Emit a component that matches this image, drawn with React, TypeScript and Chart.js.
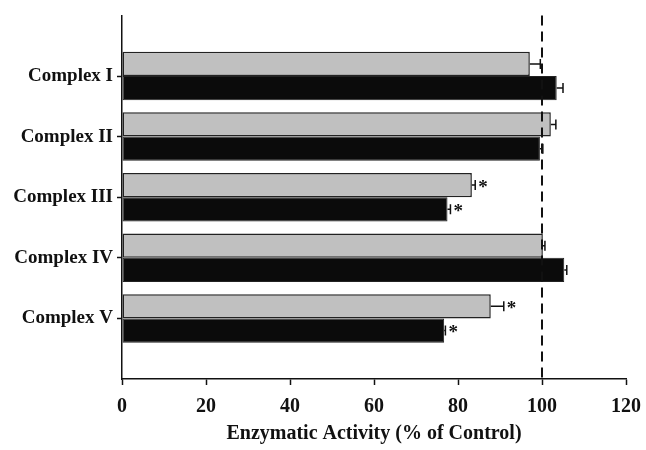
import React, { useEffect, useRef } from "react";
import { Chart, registerables } from "chart.js";

Chart.register(...registerables);

const categories = ["Complex I", "Complex II", "Complex III", "Complex IV", "Complex V"];
const grayValues = [97.1, 102.1, 83.3, 100.2, 87.8];
const grayErrors = [2.5, 1.2, 0.8, 0.5, 3.1];
const blackValues = [103.5, 99.5, 77.5, 105.3, 76.7];
const blackErrors = [1.5, 0.7, 0.7, 0.6, 0.3];
const graySig = [false, false, true, false, true];
const blackSig = [false, false, true, false, true];
const xTicks = [0, 20, 40, 60, 80, 100, 120];
const controlLevel = 100;
const xTitle = "Enzymatic Activity (% of Control)";

const FONT = "'Liberation Serif', 'Times New Roman', serif";

export default function App() {
  const ref = useRef<HTMLCanvasElement>(null);
  useEffect(() => {
    document.body.style.margin = "0";
    const labels = ["", ...categories, ""];
    const errors = [grayErrors, blackErrors];
    const sigs = [graySig, blackSig];
    const overlay = {
      id: "overlay",
      afterDatasetsDraw(chart: any) {
        const ctx = chart.ctx;
        const x = chart.scales.x;
        const area = chart.chartArea;
        ctx.save();
        chart.data.datasets.forEach((ds: any, di: number) => {
          const meta = chart.getDatasetMeta(di);
          meta.data.forEach((el: any, i: number) => {
            const v = ds.data[i];
            if (v == null) return;
            const k = i - 1;
            const e = errors[di][k];
            const x0 = x.getPixelForValue(v);
            const x1 = x.getPixelForValue(v + e);
            const y = el.y;
            ctx.strokeStyle = "#111";
            ctx.lineWidth = 1.5;
            ctx.beginPath();
            ctx.moveTo(x0, y);
            ctx.lineTo(x1, y);
            ctx.moveTo(x1, y - 5);
            ctx.lineTo(x1, y + 5);
            ctx.stroke();
            if (sigs[di][k]) {
              ctx.fillStyle = "#111";
              ctx.font = `bold 19px ${FONT}`;
              ctx.textAlign = "left";
              ctx.textBaseline = "middle";
              ctx.fillText("*", x1 + 3, y + 3);
            }
          });
        });
        const xc = x.getPixelForValue(controlLevel);
        ctx.strokeStyle = "#111";
        ctx.lineWidth = 2;
        ctx.setLineDash([10, 6]);
        ctx.beginPath();
        ctx.moveTo(xc, area.top);
        ctx.lineTo(xc, area.bottom);
        ctx.stroke();
        ctx.restore();
      },
    };
    const chart = new Chart(ref.current!, {
      type: "bar",
      data: {
        labels,
        datasets: [
          {
            label: "A",
            data: [null, ...grayValues, null],
            backgroundColor: "#c0c0c0",
            borderColor: "#222",
            borderWidth: 1.5,
            borderSkipped: false,
            barPercentage: 1,
            categoryPercentage: 0.8,
          },
          {
            label: "B",
            data: [null, ...blackValues, null],
            backgroundColor: "#0b0b0b",
            borderColor: "#222",
            borderWidth: 1,
            borderSkipped: false,
            barPercentage: 1,
            categoryPercentage: 0.8,
          },
        ],
      },
      options: {
        indexAxis: "y",
        animation: false,
        responsive: false,
        layout: { padding: { top: 15, right: 20, bottom: 0, left: 0 } },
        plugins: { legend: { display: false }, tooltip: { enabled: false } },
        scales: {
          y: {
            type: "category",
            offset: false,
            grid: {
              offset: false,
              drawOnChartArea: false,
              tickLength: 5,
              tickColor: (c: any) => (c.index === 0 || c.index === labels.length - 1 ? "rgba(0,0,0,0)" : "#111"),
              tickWidth: 1.5,
            },
            border: { color: "#111", width: 1.5 },
            ticks: {
              color: "#111",
              padding: 4,
              font: { family: FONT, size: 19, weight: "bold" },
              autoSkip: false,
            },
            afterFit: (s: any) => {
              s.width = 122;
            },
          },
          x: {
            type: "linear",
            min: 0,
            max: 120,
            afterBuildTicks: (s: any) => {
              s.ticks = xTicks.map((v) => ({ value: v }));
            },
            afterFit: (s: any) => {
              s.height = 71;
              s.paddingRight = 0;
              s.paddingLeft = 0;
            },
            grid: { drawOnChartArea: false, tickLength: 6, tickColor: "#111", tickWidth: 1.5 },
            border: { color: "#111", width: 1.5 },
            ticks: {
              color: "#111",
              padding: 10,
              font: { family: FONT, size: 20, weight: "bold" },
            },
            title: {
              display: true,
              text: xTitle,
              color: "#111",
              font: { family: FONT, size: 20, weight: "bold" },
              padding: { top: 4, bottom: 4 },
            },
          },
        },
      },
      plugins: [overlay],
    });
    return () => chart.destroy();
  }, []);
  return <canvas ref={ref} width={646} height={450} style={{ display: "block" }} />;
}
